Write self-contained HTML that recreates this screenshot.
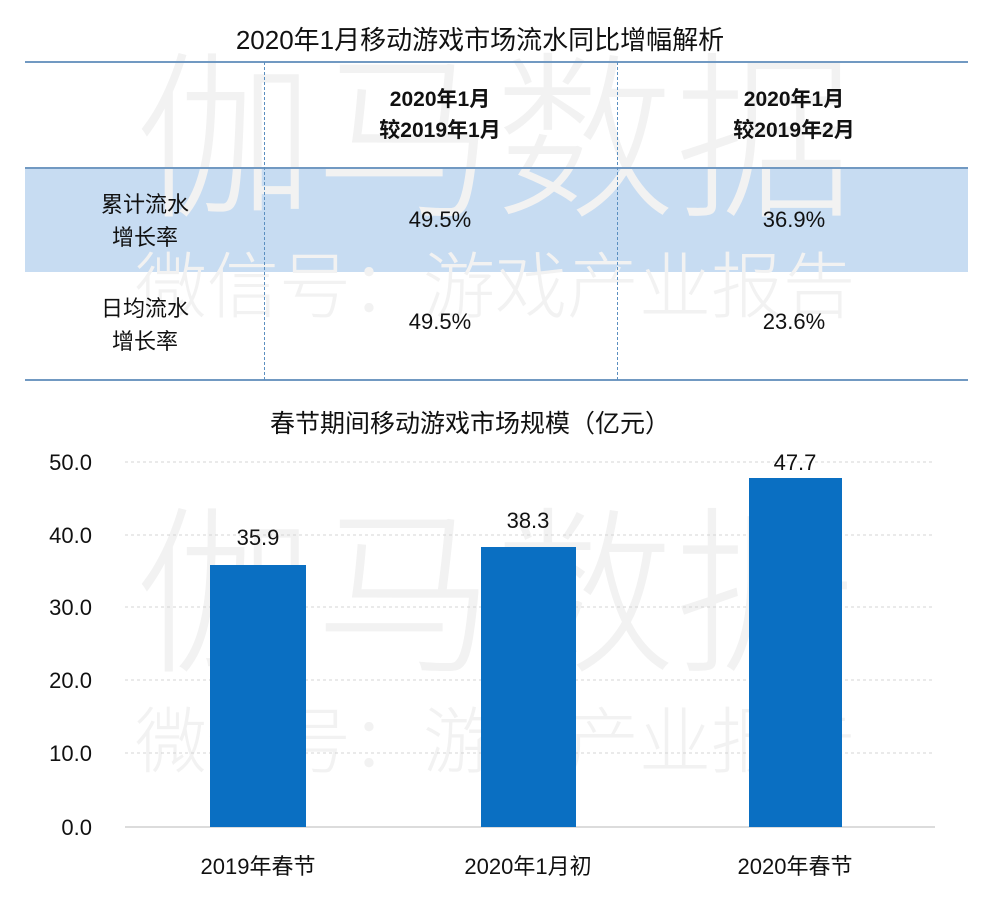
<!DOCTYPE html>
<html><head><meta charset="utf-8"><style>
body{margin:0;width:988px;height:899px;background:#fff;overflow:hidden;position:relative;font-family:"Liberation Sans","Noto Sans CJK SC",sans-serif;color:#111}
.a{position:absolute}
.wm{position:absolute;color:#f2f2f2;white-space:nowrap;font-family:"Noto Sans CJK SC",sans-serif;font-weight:300}
.c{position:absolute;text-align:center;transform:translateX(-50%);white-space:nowrap}
</style></head><body>
<div class="a" style="left:25px;top:168px;width:943px;height:104px;background:#c7dcf2"></div>
<div class="wm" style="left:135px;top:35px;font-size:180px;line-height:1">伽马数据</div>
<div class="wm" style="left:135px;top:245px;font-size:72px;line-height:1">微信号：游戏产业报告</div>
<div class="wm" style="left:135px;top:490px;font-size:180px;line-height:1">伽马数据</div>
<div class="wm" style="left:135px;top:700px;font-size:72px;line-height:1">微信号：游戏产业报告</div>
<div class="c" style="left:480px;top:20px;font-size:26px">2020年1月移动游戏市场流水同比增幅解析</div>
<div class="a" style="left:25px;top:61px;width:943px;height:2px;background:#7199c2"></div>
<div class="a" style="left:25px;top:167px;width:943px;height:2px;background:#7199c2"></div>
<div class="a" style="left:25px;top:379px;width:943px;height:2px;background:#7199c2"></div>
<div class="a" style="left:264px;top:62px;height:318px;border-left:1px dashed #5b8fc0"></div>
<div class="a" style="left:617px;top:62px;height:318px;border-left:1px dashed #5b8fc0"></div>
<div class="c" style="left:440px;top:84px;font-size:21px;font-weight:bold;line-height:31px">2020年1月<br>较2019年1月</div>
<div class="c" style="left:794px;top:84px;font-size:21px;font-weight:bold;line-height:31px">2020年1月<br>较2019年2月</div>
<div class="c" style="left:145px;top:188px;font-size:22px;line-height:33px">累计流水<br>增长率</div>
<div class="c" style="left:145px;top:292px;font-size:22px;line-height:33px">日均流水<br>增长率</div>
<div class="c" style="left:440px;top:207px;font-size:22px">49.5%</div>
<div class="c" style="left:794px;top:207px;font-size:22px">36.9%</div>
<div class="c" style="left:440px;top:309px;font-size:22px">49.5%</div>
<div class="c" style="left:794px;top:309px;font-size:22px">23.6%</div>
<div class="c" style="left:470px;top:404px;font-size:25px">春节期间移动游戏市场规模（亿元）</div>
<svg class="a" style="left:0;top:0" width="988" height="899">
<g stroke="#d4d4d4" stroke-dasharray="3,3" stroke-width="1">
<line x1="125" x2="935" y1="462" y2="462"/><line x1="125" x2="935" y1="535" y2="535"/>
<line x1="125" x2="935" y1="607" y2="607"/><line x1="125" x2="935" y1="680" y2="680"/>
<line x1="125" x2="935" y1="753" y2="753"/></g>
<line x1="125" x2="935" y1="827" y2="827" stroke="#d0d0d0" stroke-width="1.5"/>
<g fill="#0a6fc2"><rect x="210" y="565" width="96" height="262"/><rect x="481" y="547" width="95" height="280"/><rect x="749" y="478" width="93" height="349"/></g>
<g font-family="Liberation Sans,sans-serif" font-size="22" fill="#111" text-anchor="end">
<text x="92" y="470">50.0</text><text x="92" y="543">40.0</text><text x="92" y="615">30.0</text><text x="92" y="688">20.0</text><text x="92" y="761">10.0</text><text x="92" y="835">0.0</text></g>
<g font-family="Liberation Sans,sans-serif" font-size="22" fill="#111" text-anchor="middle">
<text x="258" y="545">35.9</text><text x="528" y="528">38.3</text><text x="795" y="470">47.7</text></g>
<g font-family="Liberation Sans,Noto Sans CJK SC,sans-serif" font-size="22" fill="#111" text-anchor="middle">
<text x="258" y="874">2019年春节</text><text x="528" y="874">2020年1月初</text><text x="795" y="874">2020年春节</text></g>
</svg>
</body></html>
